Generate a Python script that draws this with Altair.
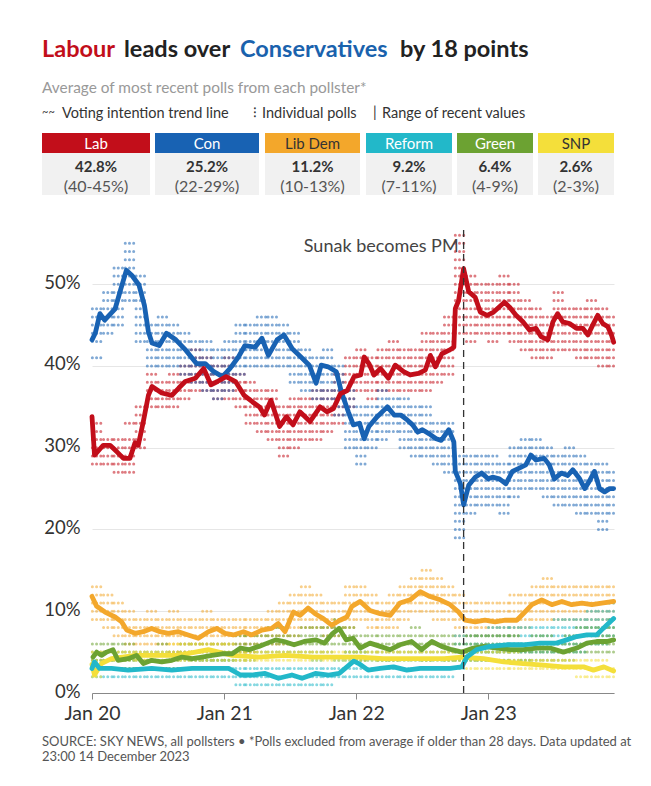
import altair as alt
import pandas as pd

FONT = "Lato"

PARTIES = ["Lab", "Con", "Lib Dem", "Reform", "Green", "SNP"]
COLORS = ["#c20e1a", "#1862b3", "#f3a72b", "#22b8c9", "#6ca232", "#f4df3a"]
HEAD_TEXT = ["white", "white", "#333333", "white", "white", "#333333"]
LATEST = ["42.8%", "25.2%", "11.2%", "9.2%", "6.4%", "2.6%"]
RANGES = ["(40-45%)", "(22-29%)", "(10-13%)", "(7-11%)", "(4-9%)", "(2-3%)"]

YEAR_TICKS = ["2020-01-01", "2021-01-01", "2022-01-01", "2023-01-01"]
Y_TICKS = [0, 10, 20, 30, 40, 50]
SUNAK_DATE = "2022-10-25"
LAST_DATE = "2023-12-14"

# ---- trend lines ----
LAB_DATES = ["2020-01-01","2020-01-08","2020-02-01","2020-02-20","2020-03-10","2020-03-28","2020-04-15","2020-04-29","2020-05-08","2020-05-22","2020-06-05","2020-06-15","2020-07-12","2020-08-09","2020-08-28","2020-09-15","2020-10-13","2020-11-05","2020-11-25","2020-12-13","2021-01-06","2021-02-01","2021-02-25","2021-03-20","2021-04-08","2021-04-22","2021-05-10","2021-06-03","2021-06-22","2021-07-10","2021-07-29","2021-08-26","2021-09-23","2021-10-12","2021-10-30","2021-11-18","2021-12-07","2021-12-26","2022-01-13","2022-01-23","2022-02-05","2022-02-19","2022-03-09","2022-03-31","2022-04-19","2022-05-12","2022-05-30","2022-06-22","2022-07-11","2022-07-25","2022-08-08","2022-08-26","2022-09-14","2022-09-28","2022-10-02","2022-10-11","2022-10-25","2022-11-08","2022-11-26","2022-12-10","2022-12-29","2023-01-16","2023-02-15","2023-03-01","2023-03-19","2023-04-07","2023-04-25","2023-05-13","2023-05-27","2023-06-15","2023-06-29","2023-07-12","2023-07-26","2023-08-14","2023-09-02","2023-09-20","2023-10-04","2023-10-17","2023-10-31","2023-11-14","2023-11-28","2023-12-08","2023-12-14"]
LAB_VALUES = [33.8,29.1,30.3,30.3,29.5,28.7,28.7,30.6,30.3,33.2,36.4,37.5,36.7,36.4,37.3,38.1,38.5,39.7,37.7,38.1,38.7,38.1,36.4,35.6,35.0,34.0,35.8,32.6,33.8,32.8,34.4,33.2,35.0,34.4,34.8,36.6,37.0,38.7,38.9,41.1,40.3,38.9,39.7,38.5,40.1,39.3,38.9,39.1,39.5,41.3,39.9,41.5,41.9,42.3,47.0,48.0,51.9,49.1,48.4,46.6,46.2,46.6,47.8,47.2,46.2,45.4,44.4,44.6,43.6,43.2,45.4,46.4,45.4,45.2,44.6,44.6,43.8,45.0,46.2,45.2,44.8,43.8,42.9]

CON_DATES = ["2020-01-01","2020-01-10","2020-01-23","2020-02-05","2020-03-05","2020-03-20","2020-04-05","2020-04-20","2020-05-10","2020-05-25","2020-06-05","2020-06-15","2020-07-05","2020-07-25","2020-08-20","2020-09-17","2020-10-16","2020-11-09","2020-12-03","2020-12-27","2021-01-17","2021-02-09","2021-02-27","2021-03-27","2021-04-15","2021-05-03","2021-05-27","2021-06-15","2021-07-08","2021-08-01","2021-08-24","2021-09-12","2021-09-26","2021-10-15","2021-11-07","2021-11-21","2021-12-10","2021-12-24","2022-01-10","2022-01-23","2022-02-05","2022-02-28","2022-03-28","2022-04-16","2022-05-04","2022-05-22","2022-06-06","2022-06-20","2022-07-03","2022-07-22","2022-08-10","2022-08-24","2022-09-14","2022-09-28","2022-10-02","2022-10-16","2022-10-25","2022-11-08","2022-11-26","2022-12-14","2023-01-01","2023-01-13","2023-02-01","2023-02-19","2023-03-09","2023-03-28","2023-04-15","2023-04-29","2023-05-13","2023-06-05","2023-06-19","2023-07-03","2023-07-22","2023-08-09","2023-08-23","2023-09-11","2023-09-25","2023-10-09","2023-10-22","2023-11-05","2023-11-19","2023-12-03","2023-12-14"]
CON_VALUES = [43.2,44.0,46.4,45.6,47.0,49.3,51.7,51.1,49.9,47.4,44.2,42.8,42.5,44.0,43.2,41.9,40.3,40.3,39.3,38.7,39.7,41.1,42.5,42.3,43.4,41.3,43.2,43.8,42.1,41.1,40.1,37.9,40.1,39.9,39.3,36.8,34.4,32.8,33.0,31.1,32.6,33.8,35.0,34.0,34.0,33.4,32.8,31.9,32.2,31.7,31.1,30.9,32.2,30.7,27.1,25.6,23.0,25.4,26.4,26.9,26.2,26.4,26.2,25.6,27.1,27.5,27.9,29.1,28.5,28.7,27.9,26.2,26.9,26.6,27.3,26.2,25.0,26.0,27.1,25.0,24.6,25.0,25.0]

LD_DATES = ["2020-01-01","2020-01-14","2020-02-06","2020-03-05","2020-03-23","2020-04-06","2020-04-29","2020-05-22","2020-06-14","2020-07-07","2020-07-30","2020-08-27","2020-09-23","2020-10-21","2020-11-18","2020-12-11","2021-01-03","2021-01-26","2021-02-23","2021-03-18","2021-04-15","2021-05-12","2021-05-30","2021-06-18","2021-07-11","2021-07-30","2021-08-21","2021-09-09","2021-10-02","2021-10-25","2021-11-17","2021-12-06","2021-12-20","2022-01-12","2022-02-08","2022-03-08","2022-04-05","2022-05-02","2022-05-30","2022-06-27","2022-07-24","2022-08-21","2022-09-18","2022-10-11","2022-10-29","2022-11-26","2022-12-23","2023-01-20","2023-02-17","2023-03-21","2023-04-08","2023-05-02","2023-05-29","2023-06-26","2023-07-24","2023-08-20","2023-09-17","2023-10-15","2023-11-11","2023-12-14"]
LD_VALUES = [11.8,10.6,9.9,9.3,8.7,7.7,7.3,7.5,7.9,7.5,7.3,7.5,7.1,6.7,7.5,7.9,7.3,7.1,7.5,7.1,7.7,7.9,8.5,7.5,9.9,9.5,10.4,9.7,9.1,8.3,8.9,9.3,10.6,11.2,10.1,9.7,9.5,11.0,11.4,12.4,11.8,11.4,10.8,9.9,8.9,8.7,8.9,8.7,8.9,8.9,9.7,10.8,11.4,10.8,11.2,10.8,11.0,10.8,11.0,11.2]

GRN_DATES = ["2020-01-04","2020-01-14","2020-01-27","2020-02-10","2020-02-28","2020-03-13","2020-04-10","2020-05-03","2020-05-22","2020-06-14","2020-07-12","2020-08-09","2020-09-06","2020-10-04","2020-11-01","2020-11-28","2020-12-26","2021-01-23","2021-02-15","2021-03-10","2021-04-07","2021-04-30","2021-05-23","2021-06-15","2021-07-13","2021-08-10","2021-09-12","2021-10-05","2021-10-28","2021-11-15","2021-12-04","2021-12-23","2022-01-12","2022-02-08","2022-03-08","2022-04-05","2022-05-02","2022-06-03","2022-07-01","2022-07-29","2022-08-25","2022-09-22","2022-10-20","2022-11-21","2022-12-19","2023-01-25","2023-03-03","2023-04-08","2023-05-15","2023-06-21","2023-07-28","2023-09-03","2023-10-01","2023-10-28","2023-11-25","2023-12-14"]
GRN_VALUES = [4.4,5.0,4.6,5.0,5.3,4.0,4.2,4.6,3.6,4.0,3.8,4.0,4.4,4.2,4.4,4.6,4.8,4.8,5.5,5.3,5.7,6.1,6.5,6.3,5.9,6.3,6.5,6.1,7.3,7.9,6.5,6.7,5.5,6.1,5.7,5.3,5.9,6.3,5.3,6.3,5.7,5.3,5.0,5.5,5.7,5.5,5.3,5.3,5.5,5.5,5.0,5.5,6.1,6.3,6.3,6.5]

SNP_DATES = ["2020-01-01","2020-01-08","2020-01-27","2020-02-24","2020-04-29","2020-06-14","2020-08-27","2020-11-18","2021-01-23","2021-04-07","2021-06-18","2021-09-05","2021-11-15","2022-01-10","2022-03-17","2022-06-17","2022-09-02","2022-10-20","2022-12-19","2023-02-13","2023-04-08","2023-06-02","2023-07-28","2023-09-22","2023-10-19","2023-11-17","2023-12-14"]
SNP_VALUES = [3.5,2.2,3.6,4.2,4.6,4.6,4.6,5.3,4.6,4.4,4.6,4.4,4.4,4.4,4.2,4.2,4.2,4.4,4.2,3.8,3.6,3.4,3.2,3.2,2.8,3.2,2.7]

REF_DATES = ["2020-01-01","2020-01-08","2020-01-22","2020-02-24","2020-04-10","2020-06-14","2020-08-09","2020-10-04","2020-11-28","2021-01-13","2021-02-15","2021-03-18","2021-04-24","2021-05-31","2021-07-07","2021-08-04","2021-09-10","2021-10-17","2021-11-15","2021-12-12","2021-12-25","2022-01-08","2022-02-03","2022-03-08","2022-04-14","2022-05-21","2022-06-27","2022-08-12","2022-09-18","2022-10-20","2022-11-03","2022-11-30","2023-01-06","2023-02-21","2023-04-08","2023-05-24","2023-07-09","2023-08-06","2023-09-03","2023-10-01","2023-10-28","2023-11-15","2023-12-14"]
REF_VALUES = [3.0,3.8,3.0,3.0,2.8,3.0,2.8,3.0,3.0,3.0,2.2,2.2,2.4,1.8,2.2,1.8,2.4,2.2,2.4,3.4,3.9,3.6,2.8,3.0,3.2,2.8,3.0,3.0,3.0,3.2,4.4,5.3,5.7,5.9,5.9,6.1,6.1,6.5,6.9,7.1,7.1,7.9,9.1]

# ---- individual polls: integer values seen in each month, Jan 2020 .. Dec 2023 ----
LAB_POLLS = ["28 29 30 31 32 33","28 29 30 31","27 28 29 30 31","27 28 29 30 31 33","30 31 32 33 34 35","35 36 37 38 39","35 36 37 38","35 36 37 38 39","36 37 38 39 40","37 38 39 40 41 42","37 38 39 40 41","36 37 38 39 40",
             "36 37 38 39 40 41","35 36 37 38 39","33 34 35 36 37 38","32 33 34 35 36 37","31 32 33 34 35 36 37","29 30 31 32 33 34 35","30 31 32 33 34 35 36","31 32 33 34 35 36","31 32 33 34 35 36 37","32 33 34 35 36 37","33 34 35 36 37 38 39","35 36 37 38 39 40 41",
             "37 38 39 40 41 42","36 37 38 39 40 41","37 38 39 40 41 42","37 38 39 40 41 42 43","37 38 39 40 41 42","37 38 39 40 41 42","37 38 39 40 41 42 43 44","38 39 40 41 42 43 44","39 40 41 42 43 44 45 46","44 45 46 47 48 49 50 51 52 53 54 55 56","43 44 45 46 47 48 49 50 51","44 45 46 47 48 49 50",
             "43 44 45 46 47 48 49 50","44 45 46 47 48 49 50 51","43 44 45 46 47 48 49 50","42 43 44 45 46 47 48","41 42 43 44 45 46 47","41 42 43 44 45 46","42 43 44 45 46 47 48 49","42 43 44 45 46 47","41 42 43 44 45 46 47","41 42 43 44 45 46 47 48","40 41 42 43 44 45 46 47","40 41 42 43 44 45 46"]
CON_POLLS = ["41 43 44 45 46 47","44 45 46 47 48 49","45 46 47 48 49 50 51 52","48 49 50 51 52 53 54 55","43 44 45 46 47 48 49 50 51","40 41 42 43 44 45","40 41 42 43 44 45 46","40 41 42 43 44 45","39 40 41 42 43 44","38 39 40 41 42 43","37 38 39 40 41 42 43","36 37 38 39 40 41 42",
             "37 38 39 40 41 42 43","39 40 41 42 43 44 45","40 41 42 43 44 45","40 41 42 43 44 45 46","40 41 42 43 44 45 46","40 41 42 43 44 45","38 39 40 41 42 43 44","37 38 39 40 41 42","36 37 38 39 40 41","36 37 38 39 40 41 42","34 35 36 37 38 39 40","30 31 32 33 34 35 36 37",
             "28 29 30 31 32 33 34 35","30 31 32 33 34 35","31 32 33 34 35 36 37","32 33 34 35 36","30 31 32 33 34 35 36","29 30 31 32 33 34 35","29 30 31 32 33 34 35","28 29 30 31 32 33","27 28 29 30 31 32 33","19 20 21 22 23 24 25 26 27 28 29","22 23 24 25 26 27 28 29","23 24 25 26 27 28 29",
             "23 24 25 26 27 28 29","22 23 24 25 26 27 28","24 25 26 27 28 29 30","25 26 27 28 29 30 31","25 26 27 28 29 30 31","24 25 26 27 28 29 30","23 24 25 26 27 28 29","23 24 25 26 27 28 29 30","22 23 24 25 26 27 28 29","22 23 24 25 26 27 28","20 21 22 23 24 25 26 27 28","22 23 24 25 26 27"]
LD_POLLS = ["9 10 11 12 13","8 9 10 11 12","7 8 9 10 11","6 7 8 9 10","6 7 8 9","6 7 8 9 10","6 7 8 9","5 6 7 8 9 10","5 6 7 8 9","5 6 7 8 9","6 7 8 9 10","6 7 8 9",
            "6 7 8 9","5 6 7 8 9","5 6 7 8 9","6 7 8 9","6 7 8 9 10","6 7 8 9 10 11","7 8 9 10 11 12","8 9 10 11 12 13","8 9 10 11 12","7 8 9 10 11","7 8 9 10 11","8 9 10 11 12 13",
            "9 10 11 12 13","8 9 10 11 12","8 9 10 11","8 9 10 11 12","9 10 11 12 13","10 11 12 13 14","10 11 12 13 14 15","9 10 11 12 13 14","9 10 11 12 13","7 8 9 10 11 12","7 8 9 10 11","7 8 9 10 11",
            "7 8 9 10 11","7 8 9 10 11","7 8 9 10 11 12","8 9 10 11 12","9 10 11 12 13","9 10 11 12 13 14","9 10 11 12 13","9 10 11 12 13","9 10 11 12 13","9 10 11 12 13","9 10 11 12 13","10 11 12 13"]
GRN_POLLS = ["3 4 5 6","4 5 6","3 4 5 6","3 4 5 6","3 4 5","3 4 5","3 4 5 6","3 4 5","3 4 5 6","3 4 5 6","4 5 6","4 5 6",
             "4 5 6","4 5 6 7","4 5 6 7","5 6 7","5 6 7 8","5 6 7 8","5 6 7","5 6 7 8","5 6 7 8","5 6 7 8","6 7 8 9","5 6 7 8",
             "4 5 6 7","5 6 7","4 5 6 7","4 5 6 7","5 6 7","5 6 7 8","4 5 6 7","5 6 7","4 5 6 7","4 5 6","4 5 6 7","4 5 6 7",
             "4 5 6 7","4 5 6 7","4 5 6 7","4 5 6","4 5 6 7","4 5 6 7","4 5 6","4 5 6 7","5 6 7 8","5 6 7 8","5 6 7 8","5 6 7 8 9"]
REF_POLLS = ["2 3 4","2 3 4","2 3","2 3 4","2 3","2 3 4","2 3","2 3 4","2 3","2 3 4","2 3 4","2 3 4",
             "2 3 4","1 2 3","1 2 3","1 2 3","1 2 3","1 2 3","1 2 3","1 2 3","1 2 3 4","1 2 3","2 3 4","2 3 4 5",
             "2 3 4 5","2 3 4","2 3 4","2 3 4","2 3 4","2 3 4","2 3 4","2 3 4","2 3 4","3 4 5 6 7","4 5 6 7","4 5 6 7",
             "4 5 6 7 8","4 5 6 7 8","5 6 7 8","4 5 6 7 8","5 6 7 8","5 6 7 8","5 6 7 8 9","5 6 7 8 9","5 6 7 8 9","6 7 8 9 10","6 7 8 9 10","7 8 9 10 11"]
SNP_POLLS = ["2 3 4 5","3 4 5","4 5","4 5","4 5","4 5","4 5","4 5 6","4 5 6","4 5 6","4 5 6","4 5 6",
             "4 5 6","4 5","4 5","4 5","4 5","4 5","4 5","4 5","4 5","4 5","4 5","4 5",
             "4 5","4 5","4 5","4 5","4 5","4 5","4 5","4 5","4 5","4 5","3 4 5","3 4 5",
             "3 4 5","3 4 5","3 4 5","3 4","3 4","3 4","3 4","3 4","2 3 4","2 3 4","2 3 4","2 3"]

TRENDS = {"Lab": (LAB_DATES, LAB_VALUES), "Con": (CON_DATES, CON_VALUES),
          "Lib Dem": (LD_DATES, LD_VALUES), "Reform": (REF_DATES, REF_VALUES),
          "Green": (GRN_DATES, GRN_VALUES), "SNP": (SNP_DATES, SNP_VALUES)}
POLLS = {"Lab": LAB_POLLS, "Con": CON_POLLS, "Lib Dem": LD_POLLS,
         "Reform": REF_POLLS, "Green": GRN_POLLS, "SNP": SNP_POLLS}

# ---- layout (pixels, relative to plot origin) ----
W, H = 522, 466
PAD_L, PAD_T = 92, 227
BOX_X = [(-50, 58), (63, 167), (173, 268), (274, 360), (365, 441), (446, 522)]

color_scale = alt.Scale(domain=PARTIES, range=COLORS)
x_scale = alt.Scale(domain=[alt.DateTime(year=2020, month=1, date=1),
                            alt.DateTime(year=2023, month=12, date=15)])
y_scale = alt.Scale(domain=[0, 57], nice=False)

# build tables
trend_rows = []
for p, (ds, vs) in TRENDS.items():
    for d, v in zip(ds, vs):
        trend_rows.append({"party": p, "date": pd.Timestamp(d), "value": v})
trend_df = pd.DataFrame(trend_rows)

months = pd.date_range("2020-01-01", periods=48, freq="MS")
last = pd.Timestamp(LAST_DATE)
poll_rows = []
for p in PARTIES:
    for m, s in zip(months, POLLS[p]):
        start = m + pd.Timedelta(days=1)
        end = min(m + pd.offsets.MonthBegin(1) - pd.Timedelta(days=1), last)
        for v in s.split():
            poll_rows.append({"party": p, "start": start, "end": end, "value": int(v)})
poll_df = pd.DataFrame(poll_rows)

X = alt.X("date:T", scale=x_scale, title=None,
          axis=alt.Axis(values=[pd.Timestamp(t).isoformat() for t in YEAR_TICKS],
                        format="Jan %y", labelFont=FONT, labelFontSize=19.5,
                        labelColor="#333333", tickColor="#888888", tickSize=6,
                        domainColor="#888888", domainWidth=1.2, grid=False,
                        labelPadding=5, labelFlush=False))
Y = alt.Y("value:Q", scale=y_scale, title=None,
          axis=alt.Axis(values=Y_TICKS, labelExpr="datum.value + '%'",
                        labelFont=FONT, labelFontSize=18.5, labelColor="#333333",
                        domain=False, ticks=False, grid=True, gridColor="#e6e6e6",
                        labelPadding=12, labelOffset=-2))

polls = alt.Chart(poll_df).mark_rule(strokeDash=[0.01, 4.2], strokeCap="round",
                                     strokeWidth=3, opacity=0.55).encode(
    x=alt.X("start:T", scale=x_scale), x2="end:T",
    y=alt.Y("value:Q", scale=y_scale),
    color=alt.Color("party:N", scale=color_scale, legend=None))

lines = []
for p in ["SNP", "Green", "Reform", "Lib Dem", "Con", "Lab"]:
    lines.append(alt.Chart(trend_df[trend_df.party == p]).mark_line(
        strokeWidth=4.8, strokeCap="round", strokeJoin="round").encode(
        x=X, y=Y, color=alt.Color("party:N", scale=color_scale, legend=None)))

sunak_df = pd.DataFrame({"date": [pd.Timestamp(SUNAK_DATE)], "lo": [0], "hi": [57],
                         "label": ["Sunak becomes PM"]})
sunak_rule = alt.Chart(sunak_df).mark_rule(color="#333333", strokeDash=[7, 5], strokeWidth=1.3).encode(
    x=alt.X("date:T", scale=x_scale), y=alt.Y("lo:Q", scale=y_scale), y2="hi:Q")
sunak_text = alt.Chart(sunak_df).mark_text(align="right", baseline="middle", dx=-5,
                                           font=FONT, fontSize=18, color="#444444").encode(
    x=alt.X("date:T", scale=x_scale), y=alt.value(20), text="label:N")

# ---- header: title, subtitle, legend, boxes, source ----
def txt(s, x, y, size, color, weight="normal", align="left"):
    return alt.Chart(pd.DataFrame({"t": [s]})).mark_text(
        align=align, baseline="middle", font=FONT, fontSize=size, color=color,
        fontWeight=weight).encode(x=alt.value(x), y=alt.value(y), text="t:N")

deco = [
    txt("Labour", -50, -177, 23.5, COLORS[0], "bold"),
    txt("leads over", 32, -177, 23.5, "#222222", "bold"),
    txt("Conservatives", 148, -177, 23.5, "#1a62ad", "bold"),
    txt("by 18 points", 308, -177, 23.5, "#222222", "bold"),
    txt("Average of most recent polls from each pollster*", -50, -139, 15.4, "#999999"),
    txt("~~", -50, -114, 11, "#444444"),
    txt("Voting intention trend line", -30, -113, 14.5, "#333333"),
    txt("⁝", 161, -114, 14, "#333333"),
    txt("Individual polls", 170, -113, 14.5, "#333333"),
    txt("|", 281, -114, 14.5, "#333333"),
    txt("Range of recent values", 290, -113, 14.5, "#333333"),
    txt("SOURCE: SKY NEWS, all pollsters \u2022 *Polls excluded from average if older than 28 days. Data updated at",
        -50, 515, 13, "#555555"),
    txt("23:00 14 December 2023", -50, 530, 13, "#555555"),
]

for i, p in enumerate(PARTIES):
    x0, x1 = BOX_X[i]
    bdf = pd.DataFrame({"t": [p]})
    deco.append(alt.Chart(bdf).mark_rect(color="#f1f1f1").encode(
        x=alt.value(x0), x2=alt.value(x1), y=alt.value(-74), y2=alt.value(-32)))
    deco.append(alt.Chart(bdf).mark_rect(color=COLORS[i]).encode(
        x=alt.value(x0), x2=alt.value(x1), y=alt.value(-94), y2=alt.value(-74)))
    cx = (x0 + x1) / 2
    deco.append(txt(p, cx, -83.5, 15, HEAD_TEXT[i], align="center"))
    deco.append(txt(LATEST[i], cx, -60, 15, "#333333", "bold", align="center"))
    deco.append(txt(RANGES[i], cx, -40, 16, "#555555", align="center"))

chart = alt.layer(polls, *lines, sunak_rule, sunak_text, *deco).properties(
    width=W, height=H,
    autosize=alt.AutoSizeParams(type="none"),
    padding={"left": PAD_L, "top": PAD_T, "right": 651 - PAD_L - W, "bottom": 786 - PAD_T - H},
    background="white",
).configure_view(stroke=None)

chart.save("out.html", embed_options={"renderer": "svg", "actions": False})
